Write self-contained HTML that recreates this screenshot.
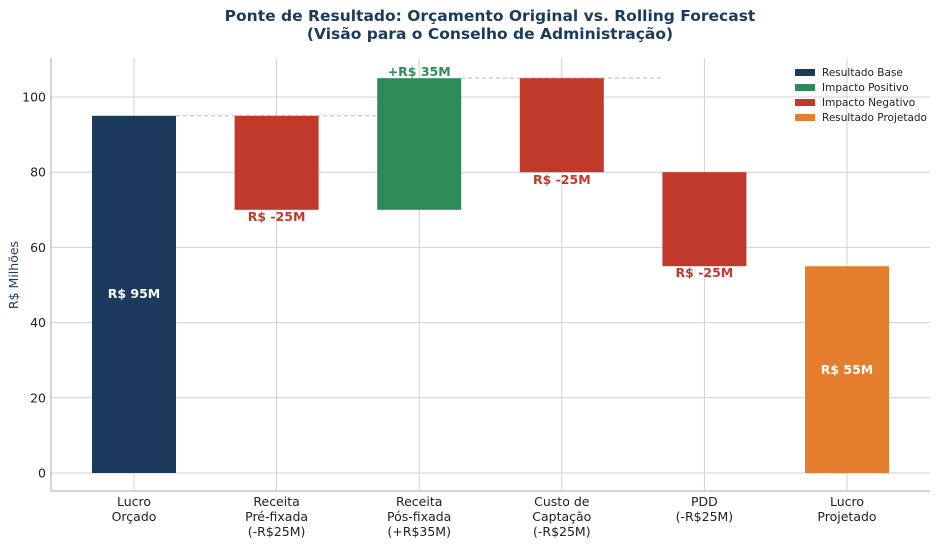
<!DOCTYPE html>
<html><head><meta charset="utf-8"><style>body{margin:0;background:#fff}svg{display:block}text{font-family:"DejaVu Sans","Liberation Sans",sans-serif}</style></head><body>
<svg width="938" height="544" viewBox="0 0 938 544" xmlns="http://www.w3.org/2000/svg">
<rect width="938" height="544" fill="#fff"/>
<text x="490" y="21" text-anchor="middle" font-size="15.5" font-weight="bold" fill="#1c3a5c">Ponte de Resultado: Orçamento Original vs. Rolling Forecast</text>
<text x="490" y="39" text-anchor="middle" font-size="15.5" font-weight="bold" fill="#1c3a5c">(Visão para o Conselho de Administração)</text>
<g stroke="#d0d0d0" stroke-width="1">
<line x1="51" x2="930" y1="473" y2="473"/><line x1="51" x2="930" y1="397.8" y2="397.8"/><line x1="51" x2="930" y1="322.6" y2="322.6"/><line x1="51" x2="930" y1="247.4" y2="247.4"/><line x1="51" x2="930" y1="172.2" y2="172.2"/><line x1="51" x2="930" y1="97" y2="97"/>
<line x1="134" x2="134" y1="58" y2="491"/><line x1="276.6" x2="276.6" y1="58" y2="491"/><line x1="419.2" x2="419.2" y1="58" y2="491"/><line x1="561.8" x2="561.8" y1="58" y2="491"/><line x1="704.4" x2="704.4" y1="58" y2="491"/><line x1="847" x2="847" y1="58" y2="491"/>
</g>
<g stroke="#aaa" stroke-width="1">
<line x1="51" x2="51" y1="58" y2="491"/><line x1="51" x2="930" y1="491" y2="491"/>
</g>
<g stroke="#bbb" stroke-dasharray="4,3">
<line x1="176" x2="377" y1="115.8" y2="115.8"/><line x1="461" x2="662" y1="78" y2="78"/>
</g>
<rect x="92" y="115.8" width="84" height="357.2" fill="#1c3a5c"/>
<rect x="234.6" y="115.8" width="84" height="94" fill="#c0392b"/>
<rect x="377.2" y="78.2" width="84" height="131.6" fill="#2e8b57"/>
<rect x="519.8" y="78.2" width="84" height="94" fill="#c0392b"/>
<rect x="662.4" y="172.2" width="84" height="94" fill="#c0392b"/>
<rect x="805" y="266.2" width="84" height="206.8" fill="#e67e30"/>
<g font-size="12.5" font-weight="bold" text-anchor="middle">
<text x="134" y="298" fill="#fff">R$ 95M</text>
<text x="276.6" y="221" fill="#c0392b">R$ -25M</text>
<text x="419.2" y="76" fill="#2e8b57">+R$ 35M</text>
<text x="561.8" y="184" fill="#c0392b">R$ -25M</text>
<text x="704.4" y="277" fill="#c0392b">R$ -25M</text>
<text x="847" y="374" fill="#fff">R$ 55M</text>
</g>
<g font-size="12.5" fill="#222" text-anchor="end">
<text x="46" y="477.5">0</text><text x="46" y="402.3">20</text><text x="46" y="327.1">40</text><text x="46" y="251.9">60</text><text x="46" y="176.7">80</text><text x="46" y="101.5">100</text>
</g>
<text transform="translate(18,275) rotate(-90)" text-anchor="middle" font-size="12.5" fill="#1c3a5c">R$ Milhões</text>
<g font-size="12.5" fill="#222" text-anchor="middle">
<text x="134" y="506">Lucro</text><text x="134" y="521">Orçado</text>
<text x="276.6" y="506">Receita</text><text x="276.6" y="521">Pré-fixada</text><text x="276.6" y="536">(-R$25M)</text>
<text x="419.2" y="506">Receita</text><text x="419.2" y="521">Pós-fixada</text><text x="419.2" y="536">(+R$35M)</text>
<text x="561.8" y="506">Custo de</text><text x="561.8" y="521">Captação</text><text x="561.8" y="536">(-R$25M)</text>
<text x="704.4" y="506">PDD</text><text x="704.4" y="521">(-R$25M)</text>
<text x="847" y="506">Lucro</text><text x="847" y="521">Projetado</text>
</g>
<g font-size="10.5" fill="#222">
<rect x="795" y="69" width="20" height="7" fill="#1c3a5c"/><text x="822" y="76">Resultado Base</text>
<rect x="795" y="84" width="20" height="7" fill="#2e8b57"/><text x="822" y="91">Impacto Positivo</text>
<rect x="795" y="99" width="20" height="7" fill="#c0392b"/><text x="822" y="106">Impacto Negativo</text>
<rect x="795" y="114" width="20" height="7" fill="#e67e30"/><text x="822" y="121">Resultado Projetado</text>
</g>
</svg>
</body></html>
